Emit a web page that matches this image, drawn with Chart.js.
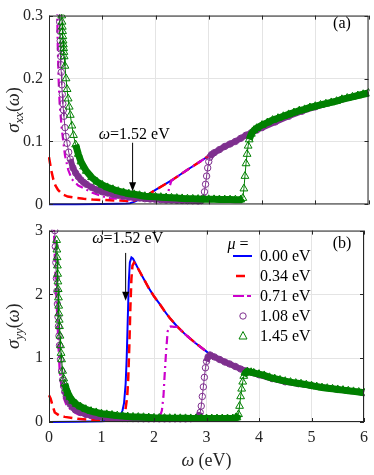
<!DOCTYPE html>
<html>
<head>
<meta charset="utf-8">
<script src="https://cdn.jsdelivr.net/npm/chart.js@4.4.1/dist/chart.umd.min.js"></script>
<style>
html, body {margin: 0; padding: 0; background: #fff;}
#wrap {position: relative; width: 374px; height: 475px; overflow: hidden;}
canvas {position: absolute; left: 0;}
#cxx {top: 0;}
#cyy {top: 215px;}
</style>
</head>
<body>
<div id="wrap">
<canvas id="cxx" width="374" height="220"></canvas>
<canvas id="cyy" width="374" height="260"></canvas>
</div>
<script>
// legend labels (chemical potential)
const muLabels = ['0.00 eV', '0.34 eV', '0.71 eV', '1.08 eV', '1.45 eV'];
const xTicks = [0, 1, 2, 3, 4, 5, 6];

// ---- panel (a): sigma_xx ----
const wxx0 = [0, 0.5, 1.0, 1.3, 1.45, 1.52, 1.6, 1.7, 1.85, 2.0, 2.3, 2.6, 3.0, 3.25, 3.5, 3.75, 4.0, 4.5, 5.0, 5.5, 6.0];
const sxx0 = [0, 0, 0.0005, 0.001, 0.0015, 0.002, 0.004, 0.008, 0.015, 0.023, 0.038, 0.055, 0.077, 0.089, 0.1, 0.111, 0.122, 0.14, 0.155, 0.167, 0.177];

const wxx1 = [0, 0.04, 0.08, 0.12, 0.17, 0.25, 0.35, 0.49, 0.65, 0.82, 1.0, 1.33, 1.52, 1.6, 1.7, 1.85, 2.0, 2.3, 2.6, 3.0, 3.25, 3.5, 3.75, 4.0, 4.5, 5.0, 5.5, 6.0];
const sxx1 = [0.075, 0.055, 0.04, 0.03, 0.023, 0.016, 0.0125, 0.0105, 0.009, 0.0078, 0.007, 0.006, 0.0055, 0.006, 0.009, 0.015, 0.023, 0.038, 0.055, 0.077, 0.089, 0.1, 0.111, 0.122, 0.14, 0.155, 0.167, 0.177];

const wxx2 = [0.14, 0.155, 0.165, 0.18, 0.2, 0.24, 0.3, 0.36, 0.43, 0.55, 0.67, 0.8, 1.0, 1.15, 1.5, 2.0, 2.15, 2.2, 2.24, 2.27, 2.3, 2.6, 3.0, 3.25, 3.5, 3.75, 4.0, 4.5, 5.0, 5.5, 6.0];
const sxx2 = [0.4, 0.3, 0.25, 0.2, 0.16, 0.12, 0.078, 0.055, 0.04, 0.03, 0.025, 0.019, 0.013, 0.01, 0.008, 0.006, 0.006, 0.01, 0.02, 0.03, 0.038, 0.055, 0.077, 0.089, 0.1, 0.111, 0.122, 0.14, 0.155, 0.167, 0.177];

const wxx3 = [0.19, 0.195, 0.2, 0.205, 0.21, 0.215, 0.22, 0.225, 0.23, 0.24, 0.25, 0.26, 0.27, 0.28, 0.3, 0.32, 0.34, 0.37, 0.4, 0.45, 0.5, 0.55, 0.6, 0.65, 0.7, 0.8, 0.9,
  1.0, 1.1, 1.2, 1.3, 1.4, 1.5, 1.6, 1.7, 1.8, 1.9, 2.0, 2.1, 2.2, 2.3, 2.4, 2.5, 2.6, 2.7, 2.8, 2.86, 2.9, 2.92, 2.94, 2.96, 2.98,
  3.0, 3.02, 3.05, 3.1, 3.2, 3.3, 3.4, 3.5, 3.6, 3.7, 3.8, 3.9, 4.0, 4.25, 4.5, 4.75, 5.0, 5.5, 6.0];
const sxx3 = [0.32, 0.305, 0.29, 0.275, 0.26, 0.247, 0.235, 0.222, 0.21, 0.19, 0.175, 0.16, 0.15, 0.14, 0.122, 0.108, 0.097, 0.083, 0.072, 0.058, 0.05, 0.044, 0.039, 0.035, 0.032, 0.027, 0.023,
  0.02, 0.018, 0.016, 0.0145, 0.013, 0.012, 0.011, 0.01, 0.009, 0.0085, 0.008, 0.0075, 0.007, 0.0068, 0.0065, 0.0062, 0.006, 0.0058, 0.0055, 0.006, 0.01, 0.02, 0.032, 0.045, 0.058,
  0.068, 0.075, 0.079, 0.082, 0.087, 0.092, 0.096, 0.1, 0.105, 0.11, 0.114, 0.118, 0.122, 0.131, 0.14, 0.148, 0.155, 0.167, 0.177];

const wxx4 = [0.235, 0.24, 0.245, 0.25, 0.255, 0.26, 0.265, 0.27, 0.275, 0.28, 0.285, 0.3, 0.32, 0.34, 0.36, 0.38, 0.4, 0.43, 0.46, 0.5, 0.55, 0.6, 0.65, 0.7, 0.8, 0.9,
  1.0, 1.1, 1.2, 1.3, 1.4, 1.5, 1.6, 1.7, 1.8, 1.9, 2.0, 2.1, 2.2, 2.3, 2.4, 2.5, 2.6, 2.7, 2.8, 2.9, 3.0, 3.1, 3.2, 3.3, 3.4, 3.5, 3.6,
  3.64, 3.66, 3.68, 3.7, 3.72, 3.74, 3.76, 3.8, 3.85, 3.9, 4.0, 4.1, 4.2, 4.3, 4.4, 4.5, 4.6, 4.7, 4.8, 4.9, 5.0, 5.1, 5.2, 5.3, 5.4, 5.5, 5.6, 5.7, 5.8, 5.9, 6.0];
const sxx4 = [0.31, 0.3, 0.29, 0.282, 0.275, 0.267, 0.26, 0.254, 0.248, 0.242, 0.235, 0.22, 0.2, 0.183, 0.168, 0.155, 0.142, 0.125, 0.11, 0.095, 0.08, 0.068, 0.06, 0.053, 0.043, 0.036,
  0.031, 0.027, 0.024, 0.021, 0.019, 0.017, 0.016, 0.0145, 0.013, 0.0125, 0.012, 0.0115, 0.011, 0.0105, 0.01, 0.0095, 0.009, 0.0088, 0.0085, 0.0082, 0.008, 0.008, 0.0078, 0.0077, 0.0076, 0.0075, 0.0075,
  0.01, 0.025, 0.045, 0.065, 0.08, 0.093, 0.103, 0.112, 0.118, 0.121, 0.126, 0.13, 0.134, 0.137, 0.14, 0.143, 0.146, 0.149, 0.151, 0.154, 0.156, 0.158, 0.16, 0.162, 0.164, 0.167, 0.169, 0.171, 0.173, 0.175, 0.177];

// ---- panel (b): sigma_yy ----
const wyy0 = [0, 0.5, 1.0, 1.2, 1.3, 1.35, 1.4, 1.43, 1.46, 1.48, 1.5, 1.52, 1.54, 1.57, 1.6, 1.65, 1.7, 1.8, 1.9, 2.0,
  2.1, 2.2, 2.3, 2.45, 2.6, 2.8, 3.07, 3.25, 3.44, 3.6, 3.76, 4.0, 4.25, 4.5, 4.75, 5.0, 5.5, 6.0];
const syy0 = [0, 0.002, 0.01, 0.025, 0.04, 0.08, 0.18, 0.3, 0.6, 1.0, 1.6, 2.2, 2.5, 2.58, 2.56, 2.48, 2.4, 2.25, 2.1, 1.97,
  1.86, 1.74, 1.63, 1.49, 1.37, 1.23, 1.06, 0.98, 0.91, 0.85, 0.8, 0.74, 0.68, 0.63, 0.6, 0.57, 0.51, 0.46];

const wyy1 = [0, 0.03, 0.07, 0.11, 0.2, 0.3, 0.54, 0.8, 1.0, 1.2, 1.35, 1.4, 1.45, 1.49, 1.51, 1.53, 1.55, 1.57, 1.59, 1.62, 1.66, 1.7, 1.8, 1.9, 2.0,
  2.1, 2.2, 2.3, 2.45, 2.6, 2.8, 3.07, 3.25, 3.44, 3.6, 3.76, 4.0, 4.25, 4.5, 4.75, 5.0, 5.5, 6.0];
const syy1 = [0.42, 0.37, 0.25, 0.15, 0.1, 0.08, 0.05, 0.035, 0.03, 0.025, 0.025, 0.05, 0.15, 0.4, 0.7, 1.2, 1.8, 2.25, 2.45, 2.5, 2.46, 2.4, 2.25, 2.1, 1.97,
  1.86, 1.74, 1.63, 1.49, 1.37, 1.23, 1.06, 0.98, 0.91, 0.85, 0.8, 0.74, 0.68, 0.63, 0.6, 0.57, 0.51, 0.46];

const wyy2 = [0.085, 0.1, 0.12, 0.14, 0.16, 0.18, 0.2, 0.23, 0.27, 0.33, 0.43, 0.55, 0.67, 0.8, 1.0, 1.5, 2.0, 2.1, 2.15, 2.18,
  2.2, 2.23, 2.26, 2.29, 2.32, 2.38, 2.45, 2.6, 2.8, 3.07, 3.25, 3.44, 3.6, 3.76, 4.0, 4.25, 4.5, 4.75, 5.0, 5.5, 6.0];
const syy2 = [3.2, 2.85, 2.35, 1.95, 1.6, 1.2, 0.85, 0.6, 0.4, 0.27, 0.18, 0.12, 0.09, 0.07, 0.05, 0.035, 0.03, 0.06, 0.18, 0.4,
  0.7, 1.1, 1.42, 1.49, 1.5, 1.49, 1.49, 1.37, 1.23, 1.06, 0.98, 0.91, 0.85, 0.8, 0.74, 0.68, 0.63, 0.6, 0.57, 0.51, 0.46];

const wyy3 = [0.11, 0.12, 0.13, 0.14, 0.15, 0.16, 0.17, 0.18, 0.19, 0.2, 0.22, 0.24, 0.26, 0.28, 0.3, 0.33, 0.36, 0.4, 0.45, 0.5,
  0.6, 0.7, 0.8, 0.9, 1.0, 1.1, 1.2, 1.3, 1.4, 1.5, 1.6, 1.7, 1.8, 1.9, 2.0, 2.1, 2.2, 2.3, 2.4, 2.5, 2.6, 2.7, 2.8,
  2.86, 2.88, 2.9, 2.92, 2.94, 2.96, 2.98, 3.0, 3.03, 3.07, 3.15, 3.25, 3.35, 3.44, 3.55, 3.65, 3.76, 3.9, 4.0, 4.25, 4.5, 4.75, 5.0, 5.5, 6.0];
const syy3 = [3.0, 2.75, 2.5, 2.25, 2.05, 1.85, 1.65, 1.5, 1.35, 1.2, 0.98, 0.8, 0.66, 0.56, 0.48, 0.4, 0.34, 0.28, 0.23, 0.19,
  0.15, 0.12, 0.1, 0.09, 0.08, 0.072, 0.065, 0.06, 0.057, 0.055, 0.053, 0.052, 0.051, 0.05, 0.05, 0.05, 0.05, 0.05, 0.05, 0.05, 0.05, 0.052, 0.06,
  0.1, 0.15, 0.25, 0.4, 0.55, 0.7, 0.85, 0.95, 1.02, 1.05, 1.02, 0.98, 0.94, 0.91, 0.87, 0.83, 0.8, 0.77, 0.74, 0.68, 0.63, 0.6, 0.57, 0.51, 0.46];

const wyy4 = [0.145, 0.15, 0.155, 0.16, 0.165, 0.17, 0.175, 0.18, 0.185, 0.19, 0.195, 0.2, 0.21, 0.22, 0.23, 0.24, 0.26, 0.28, 0.3, 0.33, 0.36, 0.4, 0.45,
  0.52, 0.6, 0.7, 0.8, 0.9, 1.0, 1.1, 1.2, 1.3, 1.4, 1.5, 1.6, 1.7, 1.8, 1.9, 2.0, 2.1, 2.2, 2.3, 2.4, 2.5, 2.6, 2.7, 2.8, 2.9,
  3.0, 3.1, 3.2, 3.3, 3.4, 3.5, 3.58, 3.61, 3.63, 3.65, 3.67, 3.69, 3.71, 3.74, 3.78, 3.85, 3.9, 4.0,
  4.1, 4.2, 4.3, 4.4, 4.5, 4.6, 4.7, 4.8, 4.9, 5.0, 5.1, 5.2, 5.3, 5.4, 5.5, 5.6, 5.7, 5.8, 5.9, 6.0];
const syy4 = [2.85, 2.7, 2.58, 2.45, 2.32, 2.2, 2.08, 1.95, 1.82, 1.7, 1.6, 1.5, 1.35, 1.2, 1.08, 0.98, 0.8, 0.68, 0.6, 0.52, 0.45, 0.39, 0.33,
  0.28, 0.24, 0.2, 0.17, 0.15, 0.13, 0.12, 0.11, 0.1, 0.093, 0.085, 0.08, 0.077, 0.074, 0.07, 0.065, 0.063, 0.061, 0.06, 0.059, 0.058, 0.057, 0.056, 0.056, 0.055,
  0.055, 0.055, 0.055, 0.055, 0.055, 0.055, 0.07, 0.12, 0.25, 0.4, 0.52, 0.63, 0.72, 0.77, 0.79, 0.78, 0.77, 0.75,
  0.73, 0.7, 0.68, 0.66, 0.64, 0.625, 0.61, 0.6, 0.585, 0.57, 0.555, 0.54, 0.53, 0.52, 0.51, 0.5, 0.49, 0.48, 0.47, 0.46];

const SERIF = '"Liberation Serif", "DejaVu Serif", serif';
const INK = '#262626';

// thin line on steep stretches so the markers show as in the original
function bandWidth(w){
    return function(c){
        const dx = Math.abs(c.p1.x - c.p0.x), dy = Math.abs(c.p1.y - c.p0.y);
        return dy > 4 * dx ? 1 : w;
    };
}

const styles = [
    {borderColor: '#0000ff', borderWidth: 2, pointRadius: 0, order: 5},
    {borderColor: '#ff0000', borderWidth: 2.5, borderDash: [9, 5], pointRadius: 0, order: 4},
    {borderColor: '#cc00cc', borderWidth: 2.2, borderDash: [8, 4, 2, 4], pointRadius: 0, order: 3},
    {borderColor: '#7e2f8e', borderWidth: 6, segment: {borderWidth: bandWidth(6)}, pointStyle: 'circle', pointRadius: 3.2, pointBorderWidth: 1,
     pointBorderColor: '#7e2f8e', pointBackgroundColor: 'rgba(0,0,0,0)', order: 2},
    {borderColor: '#008000', borderWidth: 7, segment: {borderWidth: bandWidth(7)}, pointStyle: 'triangle', pointRadius: 4.5, pointBorderWidth: 1,
     pointBorderColor: '#008000', pointBackgroundColor: 'rgba(0,0,0,0)', order: 1}
];

function makeSets(ws, ss){
    return ws.map(function(w, k){
        if (w.length !== ss[k].length) throw new Error('length mismatch in series ' + k + ': ' + w.length + ' vs ' + ss[k].length);
        return Object.assign({
            label: muLabels[k],
            data: w.map((x, i) => ({x: x, y: ss[k][i]})),
            showLine: true,
            fill: false,
            tension: 0,
            clip: 1
        }, styles[k]);
    });
}

// draws mixed italic / upright runs, centred on cx at baseline y
function drawRuns(ctx, runs, cx, y){
    let total = 0;
    runs.forEach(r => { ctx.font = r.font; r.w = ctx.measureText(r.t).width; total += r.w; });
    let x = cx - total / 2;
    ctx.textAlign = 'left';
    ctx.textBaseline = 'alphabetic';
    runs.forEach(r => {
        ctx.font = r.font;
        ctx.fillText(r.t, x, y + (r.dy || 0));
        x += r.w;
    });
}

function yTitleRuns(sub){
    return [
        {t: 'σ', font: 'italic 19px ' + SERIF},
        {t: sub, font: 'italic 13px ' + SERIF, dy: 4},
        {t: '(', font: '18px ' + SERIF},
        {t: 'ω', font: 'italic 18px ' + SERIF},
        {t: ')', font: '18px ' + SERIF}
    ];
}

function arrow(ctx, x, y0, y1){
    ctx.strokeStyle = '#000';
    ctx.fillStyle = '#000';
    ctx.lineWidth = 1;
    ctx.beginPath();
    ctx.moveTo(x, y0);
    ctx.lineTo(x, y1 - 8);
    ctx.stroke();
    ctx.beginPath();
    ctx.moveTo(x, y1);
    ctx.lineTo(x - 3.5, y1 - 9);
    ctx.lineTo(x + 3.5, y1 - 9);
    ctx.closePath();
    ctx.fill();
}

function decorations(cfg){
    return {
        id: 'decor_' + cfg.id,
        afterDraw(chart){
            const {ctx, chartArea: {left, right, top, bottom}, scales: {x, y}} = chart;
            ctx.save();
            // axes box and inner ticks
            ctx.strokeStyle = INK;
            ctx.lineWidth = 1;
            ctx.strokeRect(left + 0.5, top + 0.5, right - left - 1, bottom - top - 1);
            ctx.beginPath();
            xTicks.forEach(v => {
                const px = Math.round(x.getPixelForValue(v)) + 0.5;
                ctx.moveTo(px, bottom); ctx.lineTo(px, bottom - 4);
                ctx.moveTo(px, top); ctx.lineTo(px, top + 4);
            });
            cfg.yTicks.forEach(v => {
                const py = Math.round(y.getPixelForValue(v)) + 0.5;
                ctx.moveTo(left, py); ctx.lineTo(left + 4, py);
                ctx.moveTo(right, py); ctx.lineTo(right - 4, py);
            });
            ctx.stroke();

            ctx.fillStyle = INK;
            ctx.save();
            ctx.translate(13, (top + bottom) / 2);
            ctx.rotate(-Math.PI / 2);
            drawRuns(ctx, yTitleRuns(cfg.sub), 0, 6);
            ctx.restore();

            ctx.fillStyle = '#000';
            drawRuns(ctx, [{t: cfg.tag, font: '16px ' + SERIF}], cfg.tagX, cfg.tagY);

            drawRuns(ctx, [
                {t: 'ω', font: 'italic 16px ' + SERIF},
                {t: '=1.52 eV', font: '16px ' + SERIF}
            ], x.getPixelForValue(cfg.noteX), y.getPixelForValue(cfg.noteY) + 5);
            arrow(ctx, x.getPixelForValue(cfg.arrowX), y.getPixelForValue(cfg.arrowFrom), y.getPixelForValue(cfg.arrowTo));

            if (cfg.legend) drawLegend(ctx, chart);
            if (cfg.xTitle) {
                ctx.fillStyle = INK;
                drawRuns(ctx, [
                    {t: 'ω', font: 'italic 18px ' + SERIF},
                    {t: ' (eV)', font: '18px ' + SERIF}
                ], (left + right) / 2, chart.height - 9);
            }
            ctx.restore();
        }
    };
}

function drawLegend(ctx, chart){
    ctx.fillStyle = '#000';
    drawRuns(ctx, [
        {t: 'μ', font: 'italic 16px ' + SERIF},
        {t: ' =', font: '16px ' + SERIF}
    ], 238, 34);
    const sx = 215;
    chart.data.datasets.forEach((ds, i) => {
        const yy = 41 + 20 * i;
        ctx.save();
        ctx.strokeStyle = ds.borderColor;
        if (i < 3) {
            ctx.lineWidth = ds.borderWidth;
            ctx.beginPath();
            if (i === 1) { ctx.moveTo(sx + 21, yy); ctx.lineTo(sx + 30, yy); }
            else {
                ctx.setLineDash(i === 2 ? [11, 3, 4, 3] : []);
                ctx.moveTo(sx + 18, yy); ctx.lineTo(sx + 37, yy);
            }
            ctx.stroke();
        } else {
            ctx.lineWidth = 1;
            const cx = sx + 28;
            ctx.beginPath();
            if (i === 3) ctx.arc(cx, yy, 3.2, 0, Math.PI * 2);
            else { ctx.moveTo(cx, yy - 4.5); ctx.lineTo(cx + 4, yy + 3); ctx.lineTo(cx - 4, yy + 3); ctx.closePath(); }
            ctx.stroke();
        }
        ctx.restore();
        ctx.fillStyle = '#000';
        ctx.font = '16px ' + SERIF;
        ctx.textAlign = 'left';
        ctx.textBaseline = 'middle';
        ctx.fillText(ds.label, sx + 45, yy + 1);
    });
}

function makeOptions(opt){
    return {
        responsive: false,
        animation: false,
        layout: {padding: {top: opt.padTop, right: 4, left: 0, bottom: 0}},
        plugins: {legend: {display: false}, tooltip: {enabled: false}},
        scales: {
            x: {
                type: 'linear', min: 0, max: 6,
                ticks: {display: opt.showX, stepSize: 1, padding: 6, color: INK, font: {family: SERIF, size: 16}},
                grid: {color: '#e4e4e4', drawTicks: false},
                border: {display: false},
                afterFit(s){ s.height = opt.xHeight; }
            },
            y: {
                min: 0, max: opt.yMax,
                ticks: {stepSize: opt.yStep, padding: 6, color: INK, font: {family: SERIF, size: 16}},
                grid: {color: '#e4e4e4', drawTicks: false},
                border: {display: false},
                afterFit(s){ s.width = 49; }
            }
        }
    };
}

new Chart('cxx', {
    type: 'scatter',
    data: {datasets: makeSets([wxx0, wxx1, wxx2, wxx3, wxx4], [sxx0, sxx1, sxx2, sxx3, sxx4])},
    options: makeOptions({padTop: 7, xHeight: 13, showX: false, yMax: 0.3, yStep: 0.1}),
    plugins: [decorations({id: 'a', sub: 'xx', yTicks: [0, 0.1, 0.2, 0.3], tag: '(a)', tagX: 342, tagY: 28,
        noteX: 1.6, noteY: 0.1125, arrowX: 1.57, arrowFrom: 0.098, arrowTo: 0.021})]
});

new Chart('cyy', {
    type: 'scatter',
    data: {datasets: makeSets([wyy0, wyy1, wyy2, wyy3, wyy4], [syy0, syy1, syy2, syy3, syy4])},
    options: makeOptions({padTop: 9, xHeight: 53, showX: true, yMax: 3, yStep: 1}),
    plugins: [decorations({id: 'b', sub: 'yy', yTicks: [0, 1, 2, 3], tag: '(b)', tagX: 342, tagY: 33,
        noteX: 1.5, noteY: 2.88, arrowX: 1.46, arrowFrom: 2.65, arrowTo: 1.9, legend: true, xTitle: true})]
});
</script>
</body>
</html>
